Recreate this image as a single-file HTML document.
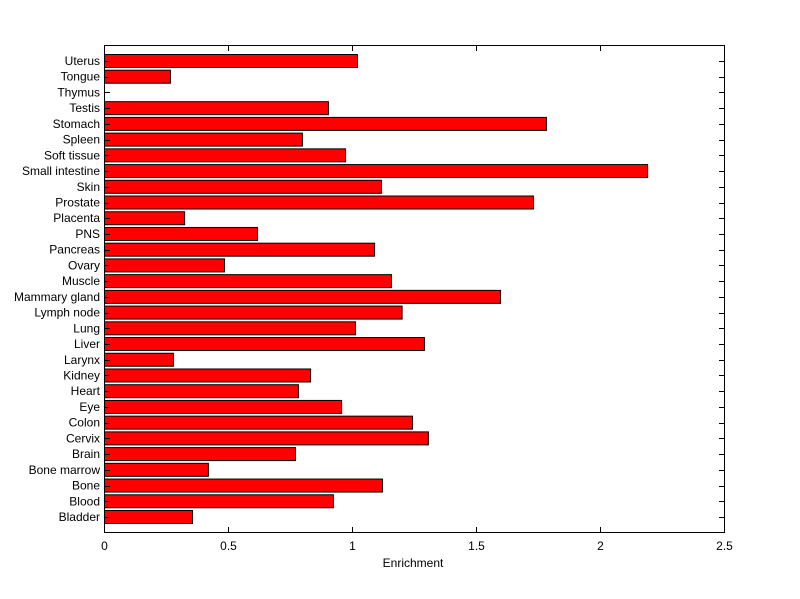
<!DOCTYPE html>
<html><head><meta charset="utf-8"><style>body{margin:0;background:#fff}svg{display:block}text{font-family:"Liberation Sans",sans-serif;font-size:12px;fill:#000}</style></head>
<body>
<svg id="s" width="800" height="599" xmlns="http://www.w3.org/2000/svg">
<rect width="800" height="599" fill="#fff"/>
<g id="g"></g>
<rect x="104.5" y="45.5" width="620" height="487" fill="none" stroke="#000" stroke-width="1"/>
<text x="413" y="567" text-anchor="middle">Enrichment</text>
</svg>
<script>
var names=["Uterus","Tongue","Thymus","Testis","Stomach","Spleen","Soft tissue","Small intestine","Skin","Prostate","Placenta","PNS","Pancreas","Ovary","Muscle","Mammary gland","Lymph node","Lung","Liver","Larynx","Kidney","Heart","Eye","Colon","Cervix","Brain","Bone marrow","Bone","Blood","Bladder"];
var vals=[1.02,0.266,0,0.903,1.782,0.798,0.972,2.19,1.117,1.73,0.323,0.617,1.089,0.484,1.157,1.597,1.2,1.012,1.29,0.278,0.831,0.782,0.956,1.242,1.306,0.77,0.419,1.121,0.923,0.355];
var h="",x0=104,k=248;
for(var i=0;i<30;i++){var y=61+i*(456/29);
if(vals[i]>0)h+='<rect x="'+(x0+0.5)+'" y="'+(y-6.5)+'" width="'+(vals[i]*k)+'" height="13" fill="#f00" stroke="#000" stroke-width="1"/>';
else h+='<line x1="104" x2="110" y1="'+y+'" y2="'+y+'" stroke="#000"/>';
h+='<line x1="104.5" x2="110" y1="'+(Math.round(y)+0.5)+'" y2="'+(Math.round(y)+0.5)+'" stroke="#000"/><line x1="719" x2="724.5" y1="'+(Math.round(y)+0.5)+'" y2="'+(Math.round(y)+0.5)+'" stroke="#000"/>';
h+='<text x="100" y="'+(y+4)+'" text-anchor="end">'+names[i]+'</text>';}
var lab=["0","0.5","1","1.5","2","2.5"];
for(var j=0;j<6;j++){var x=x0+j*124+0.5;
h+='<line x1="'+x+'" x2="'+x+'" y1="45.5" y2="51" stroke="#000"/><line x1="'+x+'" x2="'+x+'" y1="527" y2="532.5" stroke="#000"/>';
h+='<text x="'+x+'" y="550" text-anchor="middle">'+lab[j]+'</text>';}
document.getElementById("g").innerHTML=h;
</script>
</body></html>
